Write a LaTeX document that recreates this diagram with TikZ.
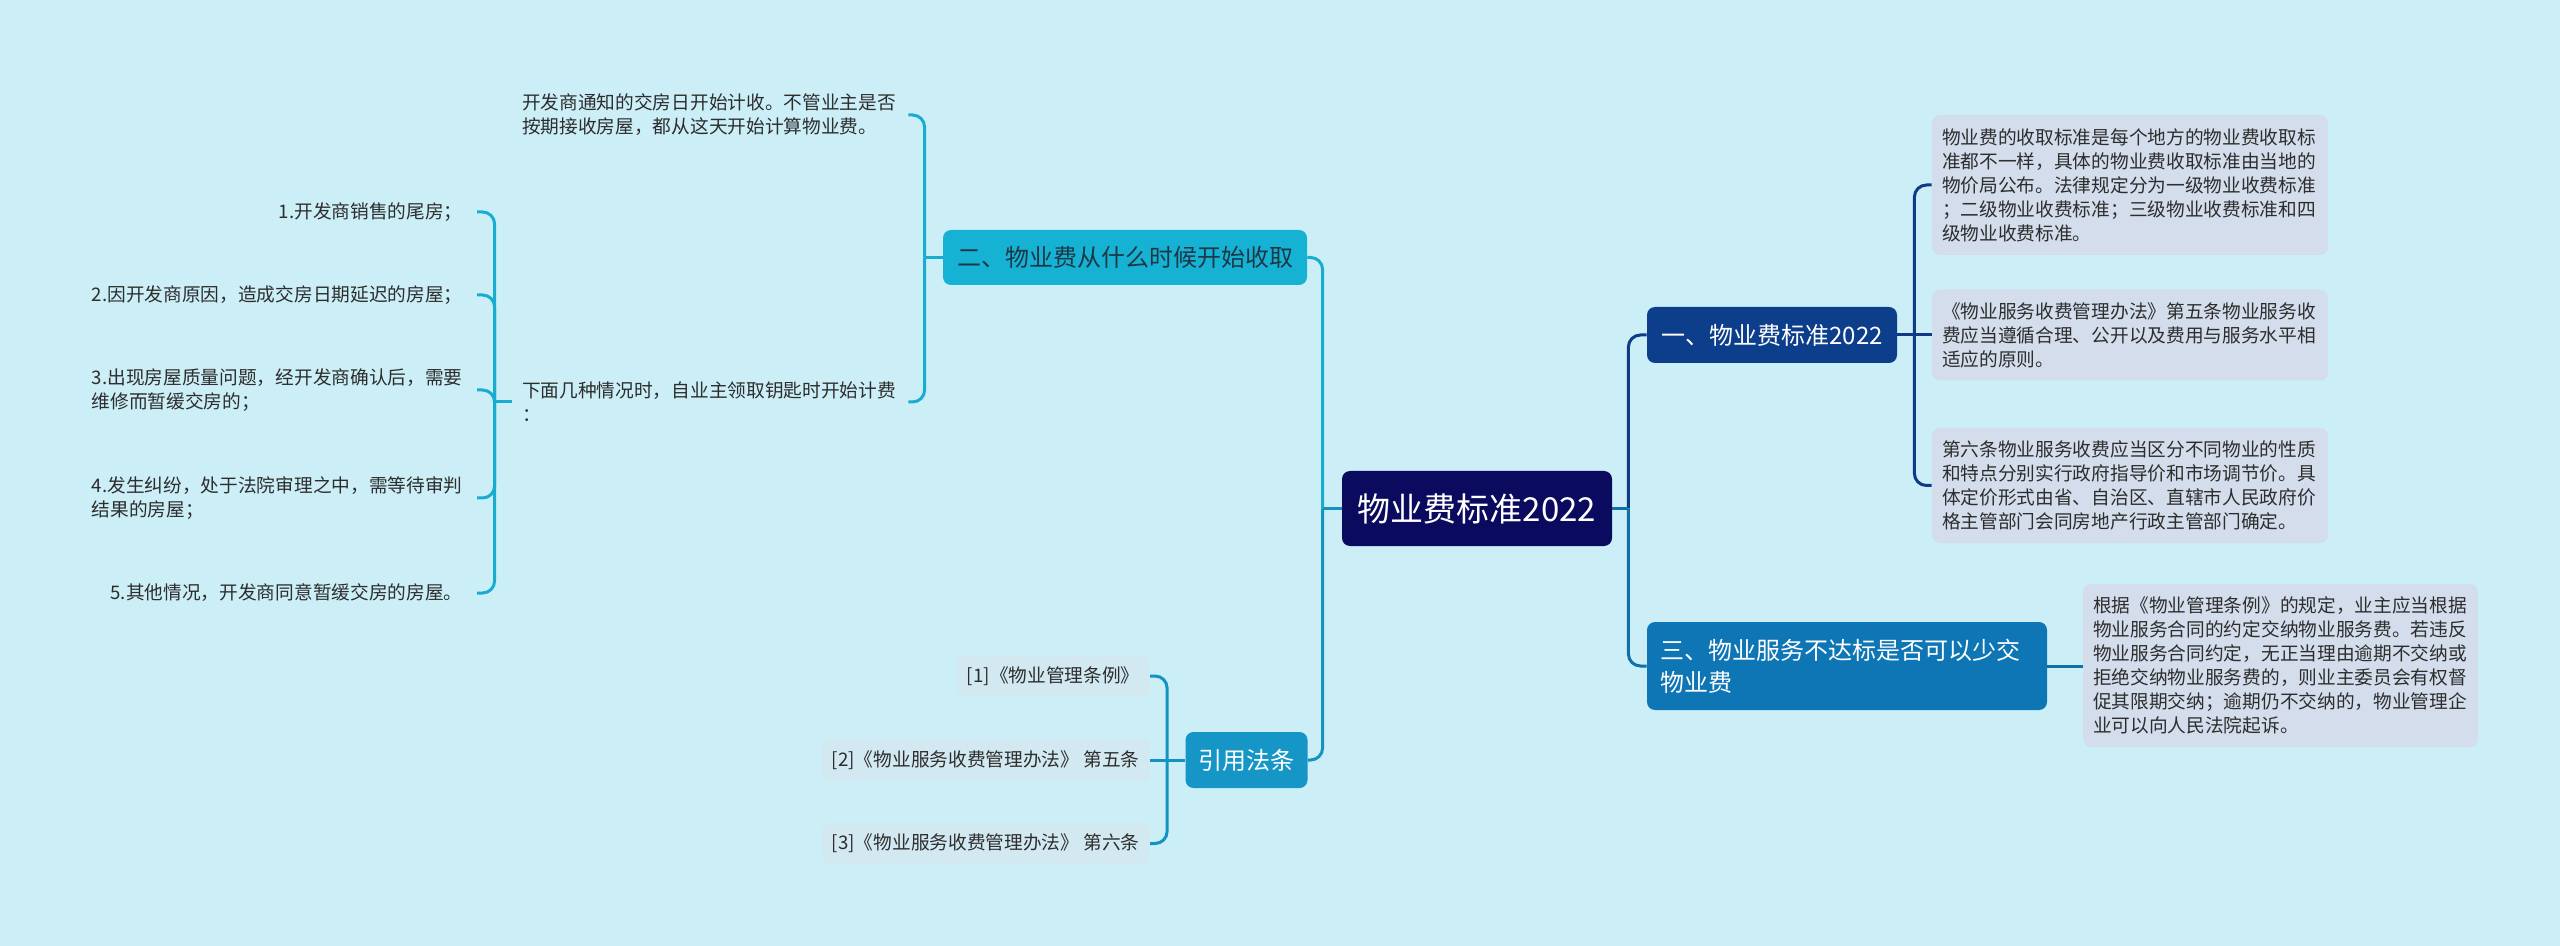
\documentclass[tikz,border=0pt]{standalone}
\usepackage{fontspec}
\setmainfont{Noto Sans CJK SC}
\definecolor{bgc}{RGB}{204,239,247}
\definecolor{ctrc}{RGB}{10,10,94}
\definecolor{onec}{RGB}{12,62,140}
\definecolor{threec}{RGB}{14,118,180}
\definecolor{twoc}{RGB}{22,178,212}
\definecolor{refc}{RGB}{21,150,198}
\definecolor{leafr}{RGB}{211,221,236}
\definecolor{leafref}{RGB}{210,233,241}
\definecolor{txt}{RGB}{45,45,45}
\definecolor{twotxt}{RGB}{30,55,70}
\definecolor{lnTwo}{RGB}{24,172,208}
\definecolor{lnRef}{RGB}{20,146,194}
\definecolor{lnOne}{RGB}{14,58,136}
\definecolor{lnThree}{RGB}{16,112,172}
\begin{document}
\begin{tikzpicture}[x=0.5pt,y=-0.5pt,
  ctrbox/.style={fill=ctrc, text=white, rounded corners=4pt, inner sep=0pt, font=\fontsize{16.5}{20}\selectfont},
  lvlone/.style={rounded corners=4pt, inner xsep=6.5pt, inner ysep=0pt, font=\fontsize{12}{16}\selectfont},
  leafbox/.style={fill=leafr, rounded corners=4pt, inner xsep=5pt, inner ysep=0pt, text width=188pt, align=left, text=txt, font=\fontsize{9.35}{12}\selectfont},
  plainleaf/.style={inner xsep=5pt, inner ysep=0pt, text=txt, align=left, font=\fontsize{9.35}{12}\selectfont},
  refleaf/.style={fill=leafref, rounded corners=4pt, inner xsep=5pt, inner ysep=0pt, minimum height=21pt, text=txt, font=\fontsize{9.35}{12}\selectfont},
  conn/.style={line width=1.5pt, rounded corners=6pt}]
\fill[bgc] (0,0) rectangle (2560,946);
\useasboundingbox (0,0) rectangle (2560,946);

% main nodes
\node[ctrbox, minimum width=135pt, minimum height=37.5pt] (ctr) at (1477,508.5) {物业费标准2022};
\node[lvlone, fill=onec, text=white, minimum width=125pt, minimum height=28pt] (n1) at (1772,335) {一、物业费标准2022};
\node[lvlone, fill=twoc, text=twotxt, minimum width=182pt, minimum height=27.5pt] (n2) at (1125,257.5) {二、物业费从什么时候开始收取};
\node[lvlone, fill=threec, text=white, text width=187pt, align=left, minimum height=44pt] (n3) at (1847,666) {三、物业服务不达标是否可以少交\\物业费};
\node[lvlone, fill=refc, text=white, minimum width=60.5pt, minimum height=28pt] (ref) at (1246.5,760) {引用法条};

% right leaves
\node[leafbox, minimum height=70pt] (a1) at (2130,185) {物业费的收取标准是每个地方的物业费收取标\\准都不一样，具体的物业费收取标准由当地的\\物价局公布。法律规定分为一级物业收费标准\\；二级物业收费标准；三级物业收费标准和四\\级物业收费标准。};
\node[leafbox, minimum height=45.5pt] (a2) at (2130,335) {《物业服务收费管理办法》第五条物业服务收\\费应当遵循合理、公开以及费用与服务水平相\\适应的原则。};
\node[leafbox, minimum height=57.5pt] (a3) at (2130,485.5) {第六条物业服务收费应当区分不同物业的性质\\和特点分别实行政府指导价和市场调节价。具\\体定价形式由省、自治区、直辖市人民政府价\\格主管部门会同房地产行政主管部门确定。};
\node[leafbox, text width=187.5pt, minimum height=81.5pt] (b1) at (2280.5,665.5) {根据《物业管理条例》的规定，业主应当根据\\物业服务合同的约定交纳物业服务费。若违反\\物业服务合同约定，无正当理由逾期不交纳或\\拒绝交纳物业服务费的，则业主委员会有权督\\促其限期交纳；逾期仍不交纳的，物业管理企\\业可以向人民法院起诉。};

% left leaves
\node[plainleaf, text width=188pt] (l1) at (710,115) {开发商通知的交房日开始计收。不管业主是否\\按期接收房屋，都从这天开始计算物业费。};
\node[plainleaf, text width=188pt] (l2) at (710,402) {下面几种情况时，自业主领取钥匙时开始计费\\：};
\node[plainleaf, anchor=east, inner xsep=7pt] (c1) at (477,212) {1.开发商销售的尾房；};
\node[plainleaf, anchor=east, inner xsep=7pt] (c2) at (477,295) {2.因开发商原因，造成交房日期延迟的房屋；};
\node[plainleaf, anchor=east, inner xsep=7pt] (c3) at (477,390) {3.出现房屋质量问题，经开发商确认后，需要\\维修而暂缓交房的；};
\node[plainleaf, anchor=east, inner xsep=7pt] (c4) at (477,498) {4.发生纠纷，处于法院审理之中，需等待审判\\结果的房屋；};
\node[plainleaf, anchor=east, inner xsep=7pt] (c5) at (477,593) {5.其他情况，开发商同意暂缓交房的房屋。};

% reference leaves
\node[refleaf, anchor=east] (r1) at (1150,676) {[1]《物业管理条例》};
\node[refleaf, anchor=east] (r2) at (1150,760) {[2]《物业服务收费管理办法》 第五条};
\node[refleaf, anchor=east] (r3) at (1150,843.5) {[3]《物业服务收费管理办法》 第六条};

% connectors from centre
\path (ctr.west) ++(-19,0) coordinate (jl);
\draw[conn, lnTwo] (jl) |- (n2.east);
\draw[conn, lnRef] (jl) |- (ref.east);
\draw[conn, lnRef] (ctr.west) -- (jl);
\path (ctr.east) ++(16,0) coordinate (jr);
\draw[conn, lnOne] (jr) |- (n1.west);
\draw[conn, lnThree] (jr) |- (n3.west);
\draw[conn, lnThree] (ctr.east) -- (jr);

% branch one
\path (n1.east) ++(17,0) coordinate (j1);
\draw[conn, lnOne] (n1.east) -- (j1);
\draw[conn, lnOne] (j1) |- (a1.west);
\draw[conn, lnOne] (j1) |- (a3.west);
\draw[conn, lnOne] (j1) -- (a2.west);

% branch three
\draw[conn, lnThree] (n3.east) -- (n3.east -| b1.west);

% branch two
\path (n2.west) ++(-18,0) coordinate (j2);
\draw[conn, lnTwo] (n2.west) -- (j2);
\draw[conn, lnTwo] (j2) |- (l1.east);
\draw[conn, lnTwo] (j2) |- (l2.east);
\path (l2.west) ++(-17,0) coordinate (j3);
\draw[conn, lnTwo] (l2.west) -- (j3);
\foreach \c in {c1,c2,c3,c4,c5}{\draw[conn, lnTwo] (j3) |- (\c.east);}

% references
\path (ref.west) ++(-18,0) coordinate (j4);
\draw[conn, lnRef] (ref.west) -- (j4);
\draw[conn, lnRef] (j4) |- (r1.east);
\draw[conn, lnRef] (j4) |- (r3.east);
\draw[conn, lnRef] (j4) -- (r2.east);
\end{tikzpicture}
\end{document}
